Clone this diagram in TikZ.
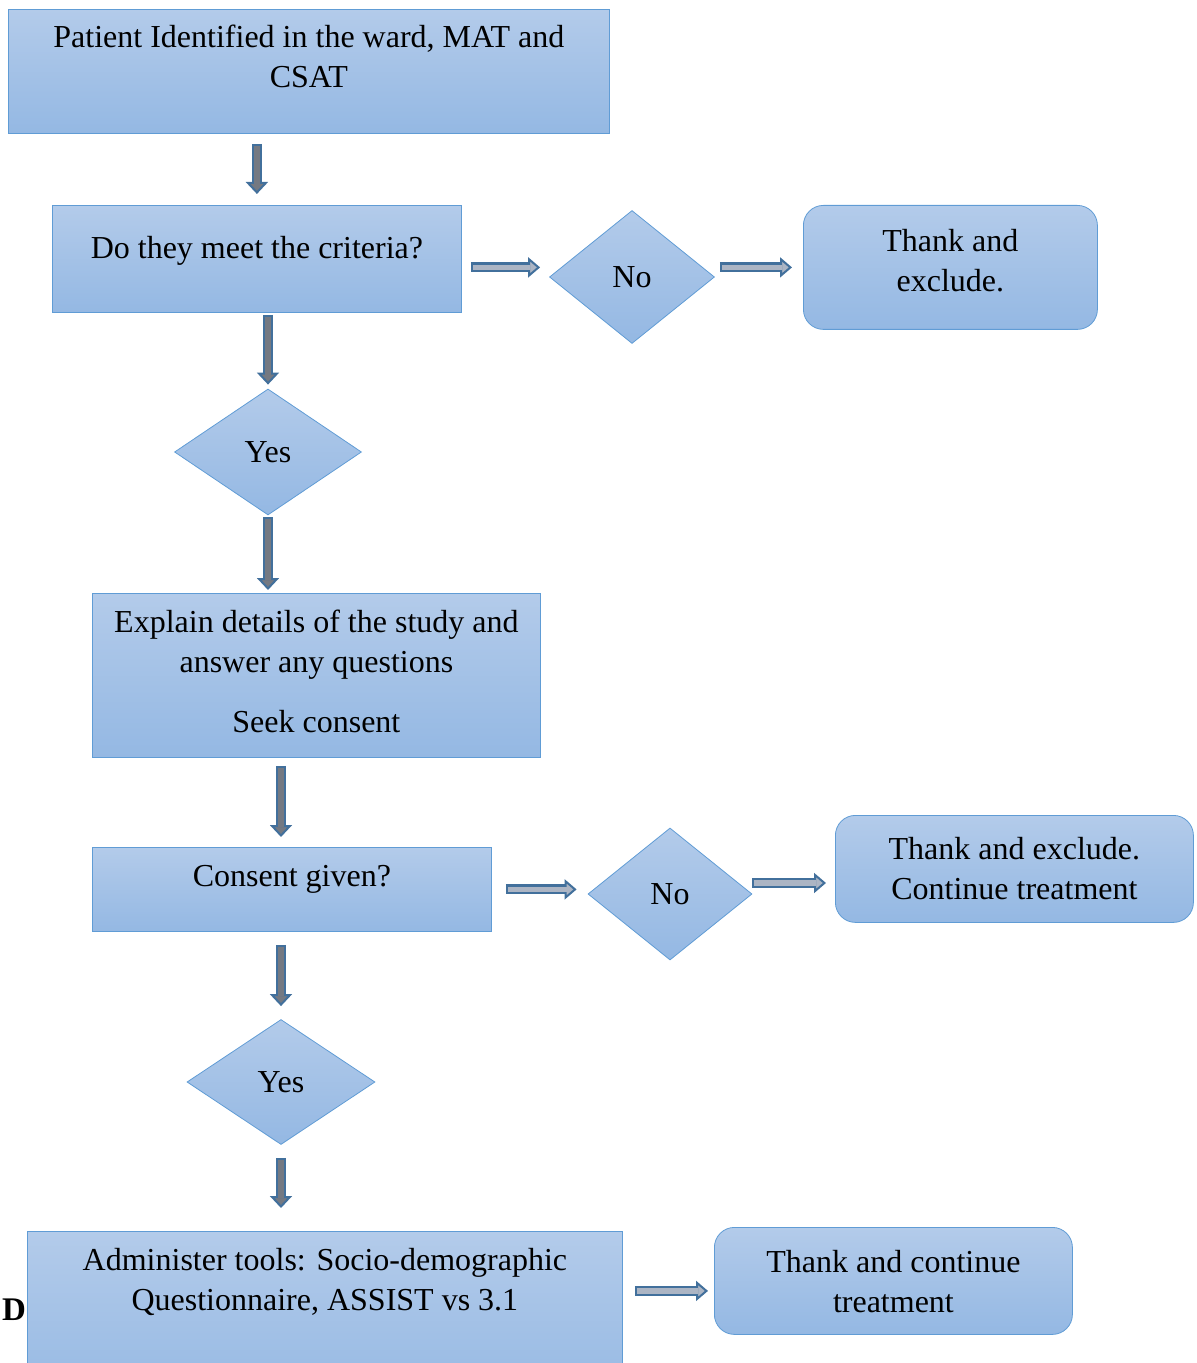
\documentclass[tikz,border=0pt]{standalone}
\usepackage{fontspec}
\setmainfont{Liberation Serif}
\usetikzlibrary{shapes.geometric, calc, arrows.meta}
\definecolor{boxtop}{RGB}{179,203,234}
\definecolor{boxbot}{RGB}{148,184,227}
\definecolor{boxline}{RGB}{96,156,213}
\definecolor{arrowline}{RGB}{66,112,156}
\definecolor{arrowdark}{RGB}{116,121,130}
\definecolor{arrowlight}{RGB}{172,181,196}

\begin{document}
\begin{tikzpicture}[x=0.5pt, y=-0.5pt,
	every node/.style={font=\fontsize{16}{20}\selectfont},
	procbox/.style={draw=boxline, top color=boxtop, bottom color=boxbot, inner sep=0pt, align=center, anchor=north west},
	roundbox/.style={procbox, rounded corners=10pt},
	decision/.style={diamond, draw=boxline, top color=boxtop, bottom color=boxbot, inner sep=0pt},
	downarrow/.style={draw=arrowline, line width=5pt, -{Triangle[length=6pt, width=11pt, line width=1pt, fill=arrowdark]},
		postaction={draw=arrowdark, line width=2.6pt, arrows=-, shorten >=5pt, shorten <=1pt}},
	sidearrow/.style={downarrow, -{Triangle[length=6pt, width=10pt, line width=1pt, fill=arrowlight]},
		postaction={draw=arrowlight, line width=2.6pt, arrows=-, shorten >=5pt, shorten <=1pt}}]
					\useasboundingbox (0,0) rectangle (1197,1363);
					\node[procbox, minimum width=300.5pt, text height=39pt, text depth=23pt] (start) at (8,9) {Patient Identified in the ward, MAT and\\CSAT};
					\node[procbox, minimum width=204.5pt, text height=26.5pt, text depth=27pt] (crit) at (52,205) {Do they meet the criteria?};
					\node[decision, minimum width=82.5pt, minimum height=66.5pt] (no1) at (632,277) {No};
					\node[roundbox, minimum width=147pt, text height=43pt, text depth=19pt] (thank1) at (803,205) {Thank and\\exclude.};
					\node[decision, minimum width=93.5pt, minimum height=63pt] (yes1) at (268,452) {Yes};
					\node[procbox, minimum width=224pt, text height=69.5pt, text depth=12.5pt] (explain) at (92,593) {Explain details of the study and\\answer any questions\\[10pt]Seek consent};
					\node[procbox, minimum width=199.5pt, text height=19.5pt, text depth=22.5pt] (consent) at (92,847) {Consent given?};
					\node[decision, minimum width=82pt, minimum height=66pt] (no2) at (670,894) {No};
					\node[roundbox, minimum width=179pt, text height=42pt, text depth=11.5pt] (thank2) at (835,815) {Thank and exclude.\\Continue treatment};
					\node[decision, minimum width=94pt, minimum height=62.5pt] (yes2) at (281,1082) {Yes};
					\node[procbox, minimum width=297.5pt, text height=39.5pt, text depth=50pt] (admin) at (27,1231) {Administer tools: Socio-demographic\\Questionnaire, ASSIST vs 3.1};
					\node[roundbox, minimum width=179pt, text height=42.5pt, text depth=11pt] (thank3) at (714,1227) {Thank and continue\\treatment};
					\node[font=\fontsize{16.5}{20}\selectfont\bfseries] (mark) at (14,1310) {D};
					\draw[downarrow] ($(start.south -| crit.north)+(0,10)$) -- ($(crit.north)+(0,-11)$);
					\draw[downarrow] ($(crit.south -| yes1.north)+(0,2)$) -- ($(yes1.north)+(0,-4)$);
					\draw[downarrow] ($(yes1.south)+(0,2)$) -- ($(explain.north -| yes1.south)+(0,-3)$);
					\draw[downarrow] ($(explain.south -| yes2.north)+(0,8)$) -- ($(consent.north -| yes2.north)+(0,-10)$);
					\draw[downarrow] ($(consent.south -| yes2.north)+(0,13)$) -- ($(yes2.north)+(0,-13)$);
					\draw[downarrow] ($(yes2.south)+(0,13)$) -- ($(admin.north -| yes2.south)+(0,-23)$);
					\draw[sidearrow] ($(crit.east |- thank1.west)+(9,0)$) -- ($(no1.west |- thank1.west)+(-9,0)$);
					\draw[sidearrow] ($(no1.east |- thank1.west)+(5,0)$) -- ($(thank1.west)+(-11,0)$);
					\draw[sidearrow] ($(consent.east)+(14,0)$) -- ($(no2.west |- consent.east)+(-11,0)$);
					\draw[sidearrow] ($(no2.east)+(0,-11)$) -- ($(thank2.west |- no2.east)+(-9,-11)$);
					\draw[sidearrow] ($(admin.east |- thank3.west)+(12,10)$) -- ($(thank3.west)+(-6,10)$);
				\end{tikzpicture}
\end{document}
